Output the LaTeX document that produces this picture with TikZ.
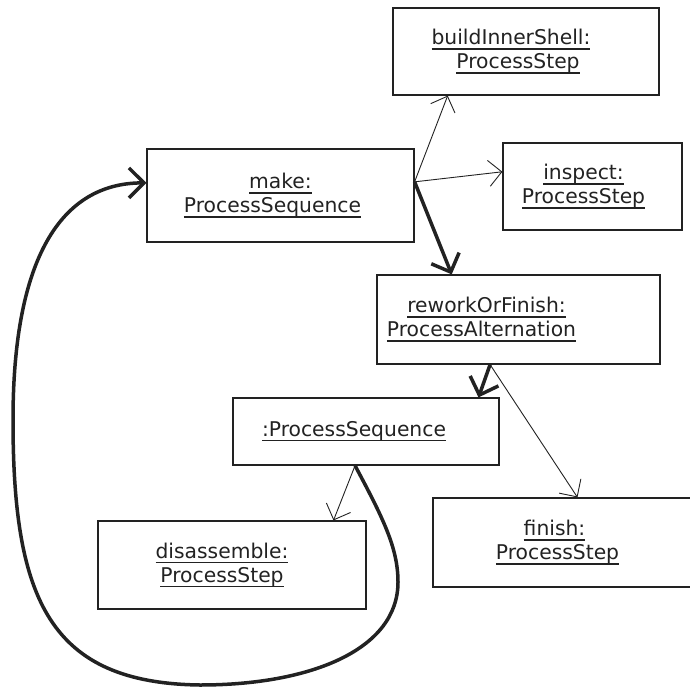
\documentclass[tikz,border=0pt]{standalone}
\usepackage{fontspec}
\setmainfont{DejaVu Sans}
\usetikzlibrary{arrows.meta,calc}
\definecolor{ink}{HTML}{222222}
\newcommand\uln[1]{\setbox0\hbox{#1}\leavevmode\rlap{\rule[-4.8pt]{\wd0}{1.2pt}}\box0}
\newcommand\sh[2]{\hspace*{#1}#2\hspace*{-#1}}
\tikzset{
  objbox/.style={draw=ink, line width=1.2pt, inner sep=0pt, align=center, text=ink,
    font=\fontsize{20.3}{24}\selectfont},
  thinarr/.style={draw=ink, line width=0.9pt, -{Straight Barb[length=13pt,width=26pt]}},
  thickarr/.style={draw=ink, line width=3.5pt, -{Straight Barb[length=15pt,width=30pt]}}
}
\begin{document}
\begin{tikzpicture}[x=1pt,y=-1pt]
\useasboundingbox (0,0) rectangle (690,693);
\clip (0,0) rectangle (690,693);

\node[objbox, minimum width=266pt, minimum height=87pt] (build) at (526,51.5)
  {\sh{-15pt}{\uln{buildInnerShell:}}\\\sh{-8pt}{\uln{ProcessStep}}};
\node[objbox, minimum width=179pt, minimum height=87pt] (inspect) at (592.5,186.5)
  {\sh{-9pt}{\uln{inspect:}}\\\sh{-9pt}{\uln{ProcessStep}}};
\node[objbox, minimum width=267pt, minimum height=93pt] (make) at (280.5,195.5)
  {\uln{make:}\\\sh{-8pt}{\uln{ProcessSequence}}};
\node[objbox, minimum width=283pt, minimum height=89pt] (rework) at (518.5,319.5)
  {\sh{-32pt}{\uln{reworkOrFinish:}}\\\sh{-37pt}{\uln{ProcessAlternation}}};
\node[objbox, minimum width=266pt, minimum height=67pt] (ps) at (366,431.5)
  {\sh{-12pt}{\uln{:ProcessSequence}}};
\node[objbox, minimum width=268pt, minimum height=88pt] (dis) at (232,565)
  {\sh{-10pt}{\uln{disassemble:}}\\\sh{-10pt}{\uln{ProcessStep}}};
\node[objbox, minimum width=267pt, minimum height=89pt] (finish) at (566.5,542.5)
  {\sh{-12pt}{\uln{finish:}}\\\sh{-9pt}{\uln{ProcessStep}}};

\coordinate (mk) at ($(make.north east)!0.355!(make.south east)$);
\draw[thinarr] (mk) -- ($(build.south west)!0.207!(build.south east)$);
\draw[thinarr] (mk) -- ($(inspect.north west)!0.333!(inspect.south west)$);
\draw[thickarr] (mk) -- ($(rework.north west)!0.265!(rework.north east)$);

\coordinate (rw) at ($(rework.south west)!0.40!(rework.south east)$);
\draw[thickarr] (rw) -- ($(ps.north west)!0.921!(ps.north east)$);
\draw[thinarr] (rw) -- ($(finish.north west)!0.541!(finish.north east)$);

\coordinate (pb) at ($(ps.south west)!0.459!(ps.south east)$);
\draw[thinarr] (pb) -- ($(dis.north west)!0.877!(dis.north east)$);
\draw[thickarr] (pb) .. controls (383,518) and (398,548) .. (398,582)
  .. controls (398,650) and (310,685) .. (200,685)
  .. controls (50,683) and (13,600) .. (13,420)
  .. controls (13,260) and (60,183) .. ($(make.north west)!0.366!(make.south west)$);
\end{tikzpicture}
\end{document}
